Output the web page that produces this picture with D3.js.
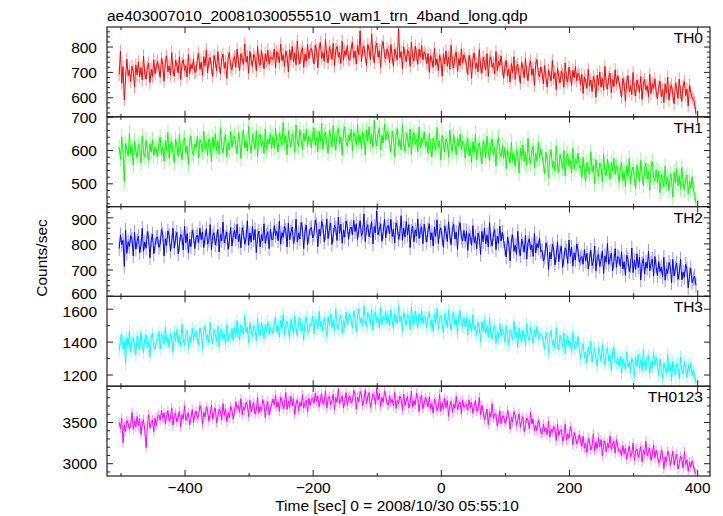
<!DOCTYPE html>
<html><head><meta charset="utf-8">
<script src="https://cdn.jsdelivr.net/npm/d3@7"></script>
<style>body{margin:0;background:#fff}svg{display:block}</style>
</head><body><svg id="c" width="723" height="516"></svg>
<script>
const title = "ae403007010_20081030055510_wam1_trn_4band_long.qdp";
const xLabel = "Time [sec] 0 = 2008/10/30 05:55:10";
const yLabel = "Counts/sec";
const bands = ["TH0", "TH1", "TH2", "TH3", "TH0123"];
const colors = ["#ff0000", "#00ff00", "#0000ff", "#00ffff", "#ff00ff"];
const xDomain = [-521, 420];
const xMajorTicks = [-400, -200, 0, 200, 400];
const xMinorTicks = [-500, -300, -100, 100, 300];
const yDomains = [[523, 877], [430, 700], [597, 941], [1129, 1675], [2845, 3934]];
const yMajorTicks = [[600, 700, 800], [500, 600, 700], [600, 700, 800, 900], [1200, 1400, 1600], [3000, 3500]];
const yMinorStep = [20, 20, 20, 100, 100];
const errHalf = [26, 24, 28, 38, 60];
const tStart = -502, tStep = 2;

const th0 = [
690,782,655,720,590,675,750,685,708,662,722,702,640,728,688,740,680,715,668,762,695,672,718,735,658,710,682,748,692,725,
740,710,678,753,730,663,738,763,700,723,688,776,708,683,746,726,696,760,670,733,748,706,724,680,768,693,730,713,751,698,
702,750,772,710,738,687,760,724,787,697,744,757,717,682,764,742,704,780,727,692,752,770,714,740,674,756,776,720,707,747,
760,718,790,741,705,772,752,730,810,738,762,695,781,746,722,769,756,704,800,740,725,784,750,712,772,742,786,730,760,752,
750,790,715,780,765,735,810,745,768,722,782,762,700,788,748,800,740,775,728,822,755,732,778,795,718,770,742,808,752,785,
793,763,731,806,783,716,791,816,753,776,741,829,761,736,799,779,749,813,723,786,801,759,777,733,821,746,783,766,804,751,
746,794,816,754,782,731,804,768,862,741,788,801,761,726,808,786,748,850,771,736,796,814,758,784,718,800,820,764,751,791,
778,736,808,759,723,790,770,748,870,756,780,713,799,764,740,787,774,722,818,758,743,802,768,730,790,760,804,748,778,770,
733,773,698,763,748,718,793,728,751,705,765,745,683,771,731,783,723,758,711,805,738,715,761,778,701,753,725,791,735,768,
752,722,690,765,742,675,750,775,712,735,700,788,720,695,758,738,708,772,682,745,760,718,736,692,780,705,742,725,763,710,
675,723,745,683,711,660,733,697,760,670,717,730,690,655,737,715,677,753,700,665,725,743,687,713,647,729,749,693,680,720,
695,653,725,676,640,707,687,665,745,673,697,630,716,681,657,704,691,639,735,675,660,719,685,647,707,677,721,665,695,687,
650,690,615,680,665,635,710,645,668,622,682,662,600,688,648,700,640,675,628,722,655,632,678,695,618,670,642,708,652,685,
662,632,600,675,652,585,660,685,622,645,610,698,630,605,668,648,618,682,592,655,670,628,646,602,690,615,652,635,673,620,
594,642,664,602,630,579,652,616,679,589,636,649,609,574,656,634,596,672,619,584,644,662,606,632,566,648,620,598,590,580,
535];

const th1 = [
609,573,640,593,505,619,602,583,651,590,611,554,627,597,577,617,605,561,643,592,579,629,600,568,619,594,631,583,609,602,
579,620,639,586,610,567,629,598,652,575,615,626,592,562,632,613,581,646,601,571,622,637,590,612,556,625,642,595,584,618,
607,641,577,632,619,594,657,602,622,583,634,617,564,639,605,649,598,628,588,668,611,591,630,645,579,623,600,656,608,636,
641,615,588,652,632,575,639,660,607,626,596,671,614,592,646,629,603,658,581,635,648,612,627,590,664,601,632,618,650,605,
641,605,666,625,594,651,634,615,683,622,643,586,659,629,609,649,637,593,675,624,611,661,632,600,651,626,663,615,641,634,
607,648,667,614,638,595,657,626,680,603,643,654,620,590,660,641,609,674,629,599,650,665,618,640,584,653,670,623,612,646,
628,662,598,653,640,615,678,623,643,604,655,638,585,660,626,670,619,649,609,689,632,612,651,666,600,644,621,677,629,657,
646,620,593,657,637,580,644,665,612,631,601,676,619,597,651,634,608,663,586,640,653,617,632,595,669,606,637,623,655,610,
626,590,651,610,579,636,619,600,668,607,628,571,644,614,594,634,622,578,660,609,596,646,617,585,636,611,648,600,626,619,
575,616,635,582,606,563,625,594,648,571,611,622,588,558,628,609,577,642,597,567,618,633,586,608,552,621,638,591,580,614,
574,608,544,599,586,561,624,569,589,550,601,584,531,606,572,616,565,595,555,635,578,558,597,612,546,590,567,623,575,603,
582,556,529,593,573,516,580,601,548,567,537,612,555,533,587,570,544,599,522,576,589,553,568,531,605,542,573,559,591,546,
553,517,578,537,506,563,546,527,595,534,555,498,571,541,521,561,549,505,587,536,523,573,544,512,563,538,575,527,553,546,
502,543,562,509,533,490,552,521,575,498,538,549,515,485,555,536,504,569,524,494,545,560,513,535,479,548,565,518,507,541,
502,536,472,527,514,489,552,497,517,478,529,512,459,534,500,544,493,523,483,548,500,480,515,525,468,505,485,520,480,470,
440];

const th2 = [
780,833,795,812,712,850,762,806,788,830,815,752,842,778,808,828,765,790,858,770,805,782,845,820,745,812,835,760,792,822,
825,785,798,854,834,752,818,792,848,830,770,805,858,782,820,842,760,795,835,822,775,865,802,838,765,816,788,850,828,780,
824,832,802,858,814,844,784,822,856,797,812,872,776,828,841,794,818,853,767,834,810,882,802,824,844,777,813,862,790,832,
850,817,873,807,835,783,860,843,797,820,887,793,840,805,865,813,853,765,827,847,787,833,810,875,800,830,845,780,855,815,
815,868,830,847,810,885,797,841,823,865,850,787,877,813,843,863,800,825,893,805,840,817,880,855,780,847,870,795,827,857,
861,821,834,890,870,788,854,828,884,866,806,841,894,818,856,878,796,831,871,858,811,901,838,874,801,852,824,886,864,816,
855,863,833,889,845,875,815,853,887,828,843,913,807,859,872,825,849,884,798,865,841,925,833,855,875,808,844,893,821,863,
869,836,892,826,854,802,879,862,816,839,906,812,859,824,884,832,872,784,846,866,806,852,829,894,819,849,864,799,874,834,
805,853,875,813,841,790,863,827,890,800,847,860,820,785,867,845,807,883,830,795,855,873,817,843,777,859,879,823,810,850,
808,848,773,838,823,793,868,803,826,780,840,820,758,846,806,858,798,833,786,880,813,790,836,853,776,828,800,866,810,843,
810,780,748,823,800,733,808,833,770,793,758,846,778,753,816,796,766,830,740,803,818,776,794,750,838,763,800,783,821,768,
773,733,746,802,782,700,766,740,796,778,718,753,806,730,768,790,708,743,783,770,723,813,750,786,713,764,736,798,776,728,
742,750,720,776,732,762,702,740,774,715,730,790,694,746,759,712,736,771,685,752,728,800,720,742,762,695,731,780,708,750,
745,712,768,702,730,678,755,738,692,715,782,688,735,700,760,708,748,660,722,742,682,728,705,770,695,725,740,675,750,710,
677,730,692,709,672,747,659,703,685,727,712,649,739,675,705,725,662,687,740,660,690,670,720,700,630,680,705,650,665,675,
640];

const th3 = [
1346,1413,1444,1357,1396,1265,1427,1377,1465,1339,1405,1423,1367,1318,1433,1402,1349,1455,1381,1332,1416,1441,1363,1399,1307,1422,1450,1371,1353,1409,
1404,1460,1355,1446,1425,1383,1488,1397,1429,1365,1449,1421,1334,1457,1401,1474,1390,1439,1373,1505,1411,1379,1443,1467,1359,1432,1393,1485,1407,1453,
1466,1424,1379,1484,1452,1358,1463,1498,1410,1442,1393,1516,1421,1386,1474,1446,1404,1494,1368,1456,1477,1418,1443,1382,1505,1400,1452,1428,1481,1407,
1486,1427,1528,1459,1409,1502,1474,1444,1556,1455,1488,1395,1515,1466,1432,1498,1480,1407,1542,1458,1437,1519,1472,1418,1502,1460,1522,1444,1486,1474,
1448,1515,1546,1459,1498,1427,1529,1479,1567,1441,1507,1525,1469,1420,1535,1504,1451,1557,1483,1434,1518,1543,1465,1501,1409,1524,1552,1473,1455,1511,
1499,1555,1450,1541,1520,1478,1583,1492,1524,1460,1544,1516,1429,1552,1496,1569,1485,1534,1468,1600,1506,1474,1538,1562,1454,1527,1488,1580,1502,1548,
1569,1527,1482,1587,1555,1461,1566,1601,1513,1545,1496,1619,1524,1489,1577,1549,1507,1597,1471,1559,1580,1521,1546,1485,1608,1503,1555,1531,1584,1510,
1553,1494,1595,1526,1476,1569,1541,1511,1623,1522,1555,1462,1582,1533,1499,1565,1547,1474,1609,1525,1504,1586,1539,1485,1569,1527,1589,1511,1553,1541,
1483,1550,1581,1494,1533,1462,1564,1514,1602,1476,1542,1560,1504,1455,1570,1539,1486,1592,1518,1469,1553,1578,1500,1536,1444,1559,1587,1508,1490,1546,
1491,1545,1440,1529,1506,1462,1565,1472,1502,1436,1518,1488,1400,1521,1463,1534,1448,1495,1427,1545,1450,1416,1478,1500,1389,1461,1420,1510,1430,1475,
1455,1396,1497,1428,1378,1471,1443,1413,1525,1424,1457,1364,1484,1435,1401,1467,1449,1376,1511,1427,1406,1488,1441,1387,1471,1429,1491,1413,1455,1443,
1441,1399,1354,1457,1425,1330,1434,1468,1379,1410,1360,1482,1386,1350,1437,1408,1365,1454,1327,1414,1434,1374,1398,1336,1458,1352,1403,1378,1430,1352,
1293,1358,1388,1300,1338,1266,1367,1316,1403,1276,1341,1358,1301,1250,1364,1332,1278,1383,1308,1257,1339,1363,1283,1318,1224,1338,1365,1285,1266,1301,
1252,1308,1203,1294,1273,1231,1336,1245,1277,1213,1297,1269,1182,1305,1249,1322,1238,1287,1221,1353,1259,1227,1291,1315,1207,1280,1241,1333,1255,1301,
1252,1193,1294,1225,1175,1268,1240,1210,1322,1221,1254,1161,1281,1232,1198,1264,1246,1173,1308,1224,1203,1280,1233,1180,1260,1218,1270,1190,1225,1200,
1150];

const th0123 = [
3495,3422,3546,3250,3462,3388,3517,3480,3418,3469,3616,3410,3513,3436,3568,3454,3542,3348,3484,3528,3396,3190,3447,3590,3425,3491,3524,3381,3546,3458,
3568,3586,3520,3643,3546,3612,3480,3564,3639,3509,3542,3674,3463,3577,3606,3502,3555,3632,3443,3590,3537,3696,3520,3568,3612,3465,3544,3652,3493,3586,
3633,3545,3574,3697,3653,3472,3618,3560,3684,3644,3512,3589,3706,3538,3622,3670,3490,3567,3655,3626,3523,3721,3582,3662,3501,3613,3552,3688,3640,3534,
3628,3745,3661,3698,3617,3782,3588,3685,3646,3738,3705,3566,3764,3624,3690,3734,3595,3650,3800,3606,3683,3632,3771,3716,3551,3698,3749,3584,3654,3720,
3777,3704,3828,3682,3744,3630,3799,3762,3660,3711,3858,3652,3755,3678,3810,3696,3784,3590,3726,3770,3638,3740,3689,3832,3667,3733,3766,3623,3788,3700,
3773,3791,3725,3848,3751,3817,3685,3769,3844,3714,3747,3879,3668,3782,3811,3707,3760,3837,3648,3795,3742,3901,3725,3773,3817,3670,3749,3857,3698,3791,
3818,3730,3759,3882,3838,3657,3803,3745,3869,3829,3697,3774,3891,3723,3807,3855,3675,3752,3840,3811,3708,3906,3767,3847,3686,3798,3737,3873,3825,3719,
3704,3821,3737,3774,3693,3858,3664,3761,3722,3814,3781,3642,3840,3700,3766,3810,3671,3726,3876,3682,3759,3708,3847,3792,3627,3774,3825,3660,3730,3796,
3755,3682,3806,3660,3722,3608,3777,3740,3638,3689,3836,3630,3733,3656,3788,3674,3762,3568,3704,3748,3616,3718,3667,3810,3645,3711,3744,3601,3766,3678,
3693,3711,3645,3768,3671,3737,3605,3689,3764,3634,3667,3799,3588,3702,3631,3527,3580,3657,3468,3615,3562,3721,3545,3593,3597,3450,3529,3637,3478,3571,
3573,3485,3514,3637,3593,3412,3558,3500,3624,3584,3452,3529,3600,3432,3516,3564,3384,3461,3549,3520,3417,3615,3476,3536,3395,3457,3396,3522,3474,3368,
3356,3473,3389,3426,3345,3510,3316,3413,3374,3446,3413,3274,3472,3332,3398,3407,3268,3323,3473,3279,3356,3305,3444,3389,3224,3371,3322,3235,3281,3347,
3277,3204,3328,3182,3244,3130,3299,3262,3160,3211,3358,3152,3255,3178,3310,3196,3284,3090,3226,3270,3138,3240,3189,3332,3167,3233,3266,3123,3288,3200,
3138,3156,3090,3213,3116,3182,3050,3134,3209,3079,3112,3244,3033,3147,3176,3072,3125,3202,3013,3160,3107,3266,3090,3138,3182,3035,3114,3222,3063,3156,
3093,3005,3034,3157,3113,2932,3078,3020,3144,3104,2972,3049,3146,2978,3062,3110,2930,2997,3085,3046,2943,3141,2982,3042,2901,3013,2952,3028,2980,2900,
2870];

const seriesValues = [th0, th1, th2, th3, th0123];

// ---------- layout ----------
const pLeft = 107, pRight = 710, pTop = 27, pBottom = 476;
const font = "'Liberation Sans', Arial, Helvetica, sans-serif";
const fs = 15.5;
const svg = d3.select("#c");
const x = d3.scaleLinear().domain(xDomain).range([pLeft, pRight]);
const panelH = (pBottom - pTop) / bands.length;

svg.append("text").attr("x", pLeft).attr("y", 20.5)
  .attr("font-family", font).attr("font-size", fs).attr("fill", "#000").text(title);

bands.forEach((name, k) => {
  const y0 = pTop + k * panelH, y1 = y0 + panelH;
  const y = d3.scaleLinear().domain(yDomains[k]).range([y1, y0]);
  const g = svg.append("g");
  const clipId = "clip" + k;
  svg.append("clipPath").attr("id", clipId).append("rect")
    .attr("x", pLeft).attr("y", y0).attr("width", pRight - pLeft).attr("height", panelH);

  const vals = seriesValues[k];
  const pts = vals.map((v, i) => ({ t: tStart + i * tStep, v }));
  const e = errHalf[k];
  const col = colors[k];
  const dg = g.append("g").attr("clip-path", `url(#${clipId})`);
  dg.append("path")
    .attr("d", pts.map(p => `M${x(p.t).toFixed(2)},${y(p.v - e).toFixed(2)}V${y(p.v + e).toFixed(2)}`).join(""))
    .attr("stroke", col).attr("stroke-opacity", 0.42).attr("stroke-width", 1).attr("fill", "none");
  dg.append("path").datum(pts)
    .attr("d", d3.line().x(p => x(p.t)).y(p => y(p.v)))
    .attr("stroke", col).attr("stroke-width", 1).attr("fill", "none");

  const [lo, hi] = yDomains[k];
  const step = yMinorStep[k];
  const minor = d3.range(Math.ceil(lo / step) * step, hi, step).filter(v => !yMajorTicks[k].includes(v));

  const la = g.append("g").attr("transform", `translate(${pLeft},0)`)
    .call(d3.axisLeft(y).tickValues(yMajorTicks[k]).tickSizeInner(-6).tickSizeOuter(0).tickPadding(10).tickFormat(d3.format("d")));
  const lm = g.append("g").attr("transform", `translate(${pLeft},0)`)
    .call(d3.axisLeft(y).tickValues(minor).tickSizeInner(-3).tickSizeOuter(0).tickFormat(""));
  const ra = g.append("g").attr("transform", `translate(${pRight},0)`)
    .call(d3.axisRight(y).tickValues(yMajorTicks[k]).tickSizeInner(-6).tickSizeOuter(0).tickFormat(""));
  const rm = g.append("g").attr("transform", `translate(${pRight},0)`)
    .call(d3.axisRight(y).tickValues(minor).tickSizeInner(-3).tickSizeOuter(0).tickFormat(""));
  const ta = g.append("g").attr("transform", `translate(0,${y0})`)
    .call(d3.axisTop(x).tickValues(xMajorTicks).tickSizeInner(-6).tickSizeOuter(0).tickFormat(""));
  const tm = g.append("g").attr("transform", `translate(0,${y0})`)
    .call(d3.axisTop(x).tickValues(xMinorTicks).tickSizeInner(-3).tickSizeOuter(0).tickFormat(""));
  const ba = g.append("g").attr("transform", `translate(0,${y1})`)
    .call(d3.axisBottom(x).tickValues(xMajorTicks).tickSizeInner(-6).tickSizeOuter(0)
      .tickPadding(5.5).tickFormat(k === bands.length - 1 ? d3.format("d") : ""));
  const bm = g.append("g").attr("transform", `translate(0,${y1})`)
    .call(d3.axisBottom(x).tickValues(xMinorTicks).tickSizeInner(-3).tickSizeOuter(0).tickFormat(""));
  [la, lm, ra, rm, ta, tm, ba, bm].forEach(a => {
    a.select(".domain").remove();
    a.selectAll("line").attr("stroke", "#222").attr("stroke-width", 1);
    a.selectAll("text").attr("font-family", font).attr("font-size", fs).attr("fill", "#000");
  });
  // keep labels that sit at a shared panel edge from colliding with the neighbour's labels
  la.selectAll("text").attr("dy", "0.36em").attr("y", d => {
    const py = y(d);
    if (y1 - py < 3) return -3;
    if (py - y0 > 3 && py - y0 < 14) return 2;
    return 0;
  });
  ba.selectAll("text").attr("dy", "0.71em");

  g.append("rect").attr("x", pLeft).attr("y", y0).attr("width", pRight - pLeft).attr("height", panelH)
    .attr("fill", "none").attr("stroke", "#222").attr("stroke-width", 1.2);

  g.append("text").attr("x", 703).attr("y", y0 + 16)
    .attr("text-anchor", "end").attr("font-family", font).attr("font-size", fs).attr("fill", "#000")
    .text(name);
});

svg.append("text").attr("transform", `translate(47,258) rotate(-90)`)
  .attr("text-anchor", "middle").attr("font-family", font).attr("font-size", fs).attr("fill", "#000")
  .text(yLabel);
svg.append("text").attr("x", 397).attr("y", 511)
  .attr("text-anchor", "middle").attr("font-family", font).attr("font-size", fs).attr("fill", "#000")
  .text(xLabel);
</script></body></html>
